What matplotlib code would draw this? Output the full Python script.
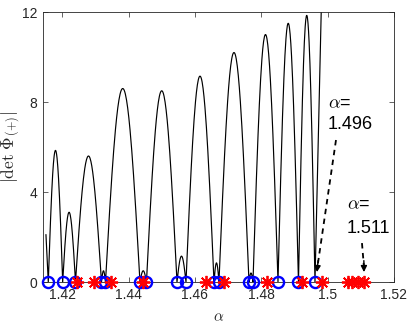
import numpy as np
import matplotlib
matplotlib.use("Agg")
import matplotlib.pyplot as plt

# ---- data ----
zeros_alpha = [1.41581, 1.42015, 1.42401, 1.43184, 1.43305, 1.44344, 1.44540,
               1.45460, 1.45731, 1.46575, 1.46725, 1.47630, 1.47750, 1.48504,
               1.49121, 1.49619]
hump_peaks = [5.85, 3.1, 5.6, 0.5, 8.6, 0.5, 8.5, 1.15, 9.15, 0.85, 10.2, 0.4,
              11.0, 11.5, 11.85]
start_point = (1.41511, 2.1)
end_point = (1.49830, 13.5)

star_alpha = [1.42446, 1.42958, 1.43470, 1.44435, 1.46334, 1.46876, 1.48187,
              1.49227, 1.49830, 1.50613, 1.50734, 1.50915, 1.51111]

xticks = [1.42, 1.44, 1.46, 1.48, 1.50, 1.52]
xtick_labels = ["1.42", "1.44", "1.46", "1.48", "1.5", "1.52"]
yticks = [0, 4, 8, 12]

plt.rcParams['font.family'] = ['Liberation Sans', 'DejaVu Sans']
plt.rcParams['mathtext.fontset'] = 'cm'

fig = plt.figure(figsize=(4.09, 3.27), dpi=100)
ax = fig.add_axes([0.1051, 0.1376, 0.8582, 0.8257])

axc = (0.15, 0.15, 0.15)

# curve: arches between consecutive zeros
xs = [start_point[0]]
ys = [start_point[1]]
for i, p in enumerate(hump_peaks):
    a, b = zeros_alpha[i], zeros_alpha[i + 1]
    t = np.linspace(0, 1, 60)
    xs.extend(a + (b - a) * t)
    ys.extend(p * np.sin(np.pi * t))
xs.append(end_point[0])
ys.append(end_point[1])
ax.plot(xs, ys, color='k', lw=0.85)

ax.plot(zeros_alpha, np.zeros(len(zeros_alpha)), 'o', mfc='none', mec='b',
        ms=8, mew=1.7, clip_on=False, zorder=5)
ax.plot(star_alpha, np.zeros(len(star_alpha)), marker=(8, 2, 0), ls='none',
        color='r', ms=9.5, mew=1.3, clip_on=False, zorder=6)

ax.set_xlim(np.sqrt(2), 1.52)
ax.set_ylim(0, 12)
ax.set_xticks(xticks)
ax.set_xticklabels(xtick_labels)
ax.set_yticks(yticks)
ax.tick_params(direction='in', top=True, right=True, length=3.5, width=0.5,
               colors=axc, labelsize=10, pad=4)
for s in ax.spines.values():
    s.set_linewidth(0.6)
    s.set_color(axc)

ax.set_xlabel(r'$\alpha$', fontsize=11, color=axc, labelpad=6)
ax.set_ylabel(r'$|\det\,\mathbf{\Phi}_{(+)}|$', fontsize=12.5, color=axc)
ax.yaxis.set_label_coords(-0.058, 0.5)

# annotations
ax.text(1.50011, 7.91, r'$\alpha$=', fontsize=13, va='center', ha='left')
ax.text(1.50011, 6.98, '1.496', fontsize=13, va='center', ha='left')
ax.text(1.50583, 3.42, r'$\alpha$=', fontsize=13, va='center', ha='left')
ax.text(1.50583, 2.40, '1.511', fontsize=13, va='center', ha='left')

# dashed arrows
ax.plot([1.50252, 1.49700], [6.31, 0.75], ls=(0, (3, 2.5)), color='k', lw=1.3)
ax.annotate('', xy=(1.49679, 0.44), xytext=(1.49712, 0.95),
            arrowprops=dict(arrowstyle='-|>', color='k', lw=1.0,
                            mutation_scale=9, shrinkA=0, shrinkB=0))
ax.plot([1.51035, 1.51090], [1.73, 0.75], ls=(0, (3, 2.5)), color='k', lw=1.3)
ax.annotate('', xy=(1.51095, 0.44), xytext=(1.51092, 0.95),
            arrowprops=dict(arrowstyle='-|>', color='k', lw=1.0,
                            mutation_scale=9, shrinkA=0, shrinkB=0))

fig.savefig('out.png', dpi=100)
